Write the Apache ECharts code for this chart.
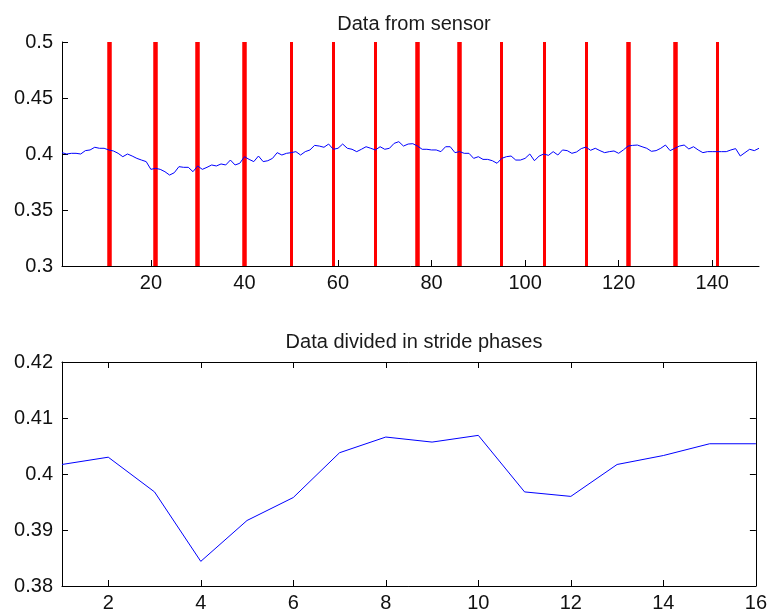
<!DOCTYPE html>
<html>
<head>
<meta charset="utf-8">
<script src="https://cdn.jsdelivr.net/npm/echarts@6/dist/echarts.min.js"></script>
<style>
html,body{margin:0;padding:0;background:#fff;}
#chart{width:770px;height:613px;}
</style>
</head>
<body>
<div id="chart"></div>
<script>
// ---------- data ----------
const sensorTitle = 'Data from sensor';
const strideTitle = 'Data divided in stride phases';

// sensor samples, index 1..150
const sensorData = [
  0.4012,0.4000,0.4006,0.4006,0.4000,0.4030,0.4036,0.4060,0.4051,0.4051,
  0.4036,0.4027,0.4006,0.3976,0.4000,0.3982,0.3961,0.3946,0.3932,0.3863,
  0.3872,0.3863,0.3842,0.3812,0.3833,0.3887,0.3881,0.3881,0.3842,0.3893,
  0.3863,0.3881,0.3902,0.3893,0.3911,0.3902,0.3946,0.3902,0.3917,0.3976,
  0.3952,0.3932,0.3982,0.3932,0.3940,0.3961,0.4012,0.3991,0.4006,0.4012,
  0.4021,0.3991,0.4021,0.4036,0.4077,0.4071,0.4060,0.4089,0.4042,0.4051,
  0.4089,0.4051,0.4042,0.4021,0.4042,0.4065,0.4051,0.4036,0.4065,0.4042,
  0.4051,0.4095,0.4110,0.4071,0.4089,0.4092,0.4071,0.4042,0.4042,0.4036,
  0.4036,0.4021,0.4065,0.4065,0.4012,0.4021,0.4006,0.4006,0.3961,0.3976,
  0.3952,0.3952,0.3940,0.3917,0.3961,0.3976,0.3982,0.3946,0.3946,0.3961,
  0.4000,0.3940,0.3982,0.4000,0.3988,0.4021,0.3991,0.4036,0.4030,0.4006,
  0.4018,0.4048,0.4062,0.4033,0.4051,0.4030,0.4012,0.4021,0.4027,0.4006,
  0.4036,0.4071,0.4077,0.4080,0.4065,0.4051,0.4024,0.4030,0.4051,0.4080,
  0.4030,0.4051,0.4071,0.4080,0.4045,0.4065,0.4036,0.4012,0.4021,0.4021,
  0.4021,0.4021,0.4021,0.4036,0.4048,0.3982,0.4012,0.4042,0.4030,0.4051
];

// stride phase boundaries (sample index)
const strideBoundaries = [11,21,30,40,50,59,68,77,86,95,104,113,122,132,141];

// mean value per stride phase, phases 1..16
const strideMeans = [
  0.4017,0.4030,0.3968,0.3844,0.3917,0.3958,0.4038,0.4066,
  0.4057,0.4069,0.3968,0.3960,0.4017,0.4033,0.4054,0.4054
];

// tick labels
const sensorXTicks = [20,40,60,80,100,120,140];
const sensorYTicks = [0.3,0.35,0.4,0.45,0.5];
const strideXTicks = [2,4,6,8,10,12,14,16];
const strideYTicks = [0.38,0.39,0.4,0.41,0.42];

// ---------- styles ----------
const boundaryWidths = [4.5,4.5,4.5,4.5,3,3,3,4.5,4.5,3,3,3,4.5,4.5,3];
const FONT = 'Liberation Sans, Arial, Helvetica, sans-serif';
const labelStyle = {color:'#111', fontSize:20, fontFamily:FONT};
const axisLine = {show:true, onZero:false, lineStyle:{color:'#000', width:1}};

function xAxisDef(gridIndex, min, max, ticks, position, showLabels){
  return {
    type:'value', gridIndex, min, max, position,
    splitLine:{show:false},
    axisLine,
    axisTick:{show:true, inside:true, length:6, customValues:ticks, lineStyle:{color:'#000'}},
    axisLabel:Object.assign({show:showLabels, margin:7, customValues:ticks}, labelStyle)
  };
}
function yAxisDef(gridIndex, min, max, ticks, position, showLabels){
  return {
    type:'value', gridIndex, min, max, position,
    splitLine:{show:false},
    axisLine,
    axisTick:{show:true, inside:true, length:6, customValues:ticks, lineStyle:{color:'#000'}},
    axisLabel:Object.assign({show:showLabels, margin:9, customValues:ticks}, labelStyle)
  };
}

const chart = echarts.init(document.getElementById('chart'), null, {renderer:'canvas'});

const option = {
  backgroundColor:'#fff',
  animation:false,
  title:[
    {text:sensorTitle, left:409, top:9, textAlign:'center',
     textStyle:{fontSize:20, fontWeight:'normal', color:'#1a1a1a', fontFamily:FONT}},
    {text:strideTitle, left:409, top:327, textAlign:'center',
     textStyle:{fontSize:20, fontWeight:'normal', color:'#1a1a1a', fontFamily:FONT}}
  ],
  grid:[
    {left:62, top:42, width:697, height:224},
    {left:62, top:362, width:696, height:224}
  ],
  xAxis:[
    xAxisDef(0, 1, 150, sensorXTicks, 'bottom', true),
    xAxisDef(1, 1, 16, strideXTicks, 'bottom', true),
    xAxisDef(1, 1, 16, strideXTicks, 'top', false)
  ],
  yAxis:[
    yAxisDef(0, 0.3, 0.5, sensorYTicks, 'left', true),
    yAxisDef(1, 0.38, 0.42, strideYTicks, 'left', true),
    yAxisDef(1, 0.38, 0.42, strideYTicks, 'right', false)
  ],
  series:[
    {
      type:'line', xAxisIndex:0, yAxisIndex:0, z:3,
      data:sensorData.map((v,i)=>[i+1,v]),
      showSymbol:false, symbol:'none',
      lineStyle:{color:'#0000ff', width:1},
      markLine:{
        silent:true, symbol:'none', z:2,
        label:{show:false},
        data:strideBoundaries.map((b,i)=>({xAxis:b, lineStyle:{color:'#ff0000', width:boundaryWidths[i], type:'solid'}}))
      }
    },
    {
      type:'line', xAxisIndex:1, yAxisIndex:1,
      data:strideMeans.map((v,i)=>[i+1,v]),
      showSymbol:false, symbol:'none',
      lineStyle:{color:'#0000ff', width:1}
    }
  ]
};
chart.setOption(option);
</script>
</body>
</html>
